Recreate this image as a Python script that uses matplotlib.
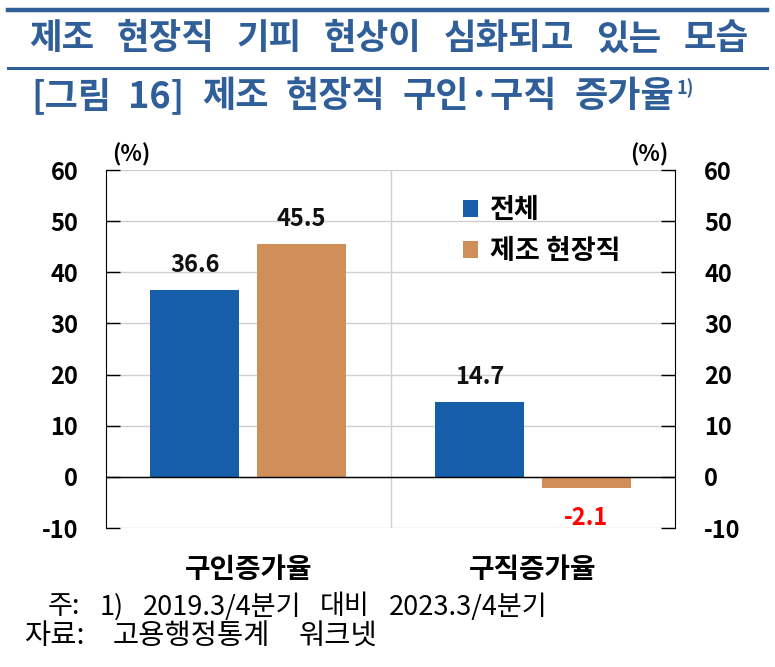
import matplotlib
matplotlib.use("Agg")
import matplotlib.pyplot as plt
import numpy as np

plt.rcParams['font.family'] = ['Noto Sans CJK KR', 'DejaVu Sans']

categories = ['구인증가율', '구직증가율']
series_names = ['전체', '제조 현장직']
total_vals = [36.6, 14.7]
mfg_vals = [45.5, -2.1]
yticks = [-10, 0, 10, 20, 30, 40, 50, 60]

title_words = ['제조', '현장직', '기피', '현상이', '심화되고', '있는', '모습']
subtitle_words = ['[그림', '16]', '제조', '현장직', '구인·구직', '증가율']
note1_words = ['주:', '1)', '2019.3/4분기', '대비', '2023.3/4분기']
note2_words = ['자료:', '고용행정통계', '워크넷']

c_blue = '#165EA9'
c_orange = '#D08F58'
c_title = '#2F5E99'

W, H = 775, 667
fig = plt.figure(figsize=(W/100, H/100), dpi=100)
ax = fig.add_axes([106/W, 1-528/H, 569/W, 358/H])

x = np.arange(len(categories))
w = 0.313
off = 0.188
ax.bar(x - off, total_vals, w, color=c_blue, label=series_names[0], zorder=3)
ax.bar(x + off, mfg_vals, w, color=c_orange, label=series_names[1], zorder=3)

ax.set_xlim(-0.5, 1.5)
ax.set_ylim(-10, 60)
ax.set_yticks(yticks)
ax.set_yticklabels([str(t) for t in yticks], fontsize=17, fontweight='bold')
ax.yaxis.grid(True, color='#d0d0d0', lw=1, zorder=0)
ax.axvline(0.5, color='#d0d0d0', lw=1, zorder=0)
ax.axhline(0, color='black', lw=1, zorder=4)
ax.tick_params(axis='y', direction='in', length=10, width=1, pad=20, colors='black')
ax.set_xticks(x)
ax.set_xticklabels(categories, fontsize=20, fontweight='bold')
ax.tick_params(axis='x', length=0, pad=20)
for s in ['top', 'bottom']:
    ax.spines[s].set_visible(False)

ax2 = ax.twinx()
ax2.set_ylim(-10, 60)
ax2.set_yticks(yticks)
ax2.set_yticklabels([str(t) for t in yticks], fontsize=17, fontweight='bold')
ax2.tick_params(axis='y', direction='in', length=10, width=1, pad=21)
for s in ['top', 'bottom', 'left', 'right']:
    ax2.spines[s].set_visible(False)

# value labels
for xi, v in zip(x - off, total_vals):
    ax.text(xi, v + 4.9, f'{v:.1f}', ha='center', va='center', fontsize=17, fontweight='bold', color='#111111', zorder=5)
for xi, v in zip(x + off, mfg_vals):
    if v >= 0:
        ax.text(xi, v + 4.9, f'{v:.1f}', ha='center', va='center', fontsize=17, fontweight='bold', color='#111111', zorder=5)
    else:
        ax.text(xi, v - 5.9, f'{v:.1f}', ha='center', va='center', fontsize=17, fontweight='bold', color='#FF0000', zorder=5)

# units
fig.text(131/W, 1-155/H, '(%)', ha='center', va='center', fontsize=16, fontweight='bold')
fig.text(649/W, 1-155/H, '(%)', ha='center', va='center', fontsize=16, fontweight='bold')

# legend
leg = ax.legend(loc='upper left', bbox_to_anchor=(0.585, 0.995), frameon=False,
                prop={'size': 19.5, 'weight': 'bold'}, handlelength=0.55, handleheight=0.55,
                handletextpad=0.45, labelspacing=0.48)

# title lines
fig.add_artist(plt.Line2D([8/W, 767/W], [1-10/H, 1-10/H], color=c_title, lw=3.2))
fig.add_artist(plt.Line2D([8/W, 767/W], [1-68/H, 1-68/H], color=c_title, lw=2.2))

fig.canvas.draw()
renderer = fig.canvas.get_renderer()


def fit_words(words, x0, x1, yc, **kw):
    """Place words left to right so the line spans x0..x1 pixels."""
    arts = [fig.text(0, 0, wd, ha='left', va='center', **kw) for wd in words]
    widths = [a.get_window_extent(renderer).width for a in arts]
    gap = (x1 - x0 - sum(widths)) / max(len(words) - 1, 1)
    cx = x0
    for a, wdt in zip(arts, widths):
        a.set_position((cx / W, 1 - yc / H))
        cx += wdt + gap
    return cx - gap


fit_words(title_words, 29, 749, 39, fontsize=25.5, fontweight='bold', color=c_title)
end = fit_words(subtitle_words, 31, 674, 97, fontsize=26, fontweight='bold', color=c_title)
fig.text((end + 2) / W, 1 - 88 / H, '1)', ha='left', va='center', fontsize=13, fontweight='bold', color=c_title)

# notes
fit_words(note1_words, 48, 547, 607, fontsize=19.5)
fit_words(note2_words, 24, 377, 636, fontsize=20.5)

fig.savefig('out.png', dpi=100)
